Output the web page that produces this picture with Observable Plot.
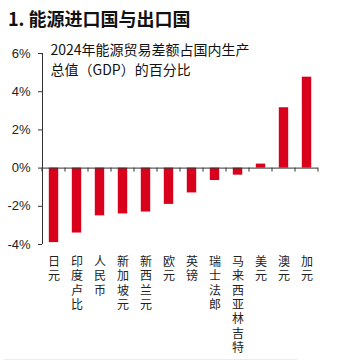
<!DOCTYPE html>
<html>
<head>
<meta charset="utf-8">
<script src="https://cdn.jsdelivr.net/npm/d3@7"></script>
<script src="https://cdn.jsdelivr.net/npm/@observablehq/plot@0.6"></script>
<style>
  html, body { margin: 0; padding: 0; background: #fff; }
  #wrap { position: relative; width: 347px; height: 361px; overflow: hidden; }
  #title { position: absolute; left: 8px; top: 6px; font-family: "Noto Sans CJK SC", "Noto Sans", sans-serif; font-weight: 700; font-size: 18px; line-height: 24px; color: #111; }
  #chart { position: absolute; left: 0; top: 35px; }
  #rule { position: absolute; left: 4px; top: 359px; width: 293px; height: 1px; background: #ececec; }
</style>
</head>
<body>
<div id="wrap">
  <div id="title">1. 能源进口国与出口国</div>
  <div id="chart"></div>
  <div id="rule"></div>
</div>
<script>
const categories = ["日元", "印度卢比", "人民币", "新加坡元", "新西兰元", "欧元", "英镑", "瑞士法郎", "马来西亚林吉特", "美元", "澳元", "加元"];
const values = [-3.9, -3.4, -2.5, -2.4, -2.3, -1.9, -1.3, -0.65, -0.37, 0.21, 3.16, 4.76];
const yTicks = [-4, -2, 0, 2, 4, 6];
const subtitle = ["2024年能源贸易差额占国内生产", "总值（GDP）的百分比"];

const data = categories.map((c, i) => ({category: c, value: values[i]}));
const ink = "#222";

function axesLines(index, scales, values, dimensions) {
  const g = d3.create("svg:g").attr("stroke", "#333").attr("stroke-width", 1).attr("fill", "none");
  const x = scales.x, y = scales.y;
  const bw = x.bandwidth();
  const y0 = y(0);
  const dom = x.domain();
  const bounds = dom.map(d => x(d)).concat([x(dom[dom.length - 1]) + bw]);
  for (const b of bounds) {
    g.append("line").attr("x1", b).attr("x2", b).attr("y1", y0).attr("y2", y0 + 4);
  }
  const xl = dimensions.marginLeft + 0.5;
  g.append("line").attr("x1", xl).attr("x2", xl).attr("y1", y(yTicks[yTicks.length - 1])).attr("y2", y(yTicks[0]));
  return g.node();
}

const plot = Plot.plot({
  width: 347,
  height: 326,
  marginTop: 18,
  marginBottom: 117,
  marginLeft: 42,
  marginRight: 29,
  style: {fontFamily: "'Liberation Sans', Arial, sans-serif", fontSize: "12px", color: ink, background: "#fff"},
  x: {domain: categories, padding: 0, label: null},
  y: {domain: [-4, 6], label: null},
  marks: [
    Plot.barY(data, {x: "category", y: "value", fill: "#d9001b", insetLeft: 6.8, insetRight: 6.8}),
    Plot.ruleY([0], {stroke: "#333", strokeWidth: 1}),
    axesLines,
    Plot.axisY({ticks: yTicks, tickFormat: d => d + "%", tickSize: 4, tickPadding: 8, fontSize: 13, stroke: "#333", label: null}),
    Plot.axisX({tickSize: 0, tickPadding: 11, tickFormat: d => d.split("").join("\n"), lineHeight: 1.2, lineAnchor: "top", fontSize: 12, fontFamily: "'Noto Sans CJK SC', sans-serif", fill: ink, label: null}),
    Plot.text([subtitle.join("\n")], {frameAnchor: "top-left", dx: 8, dy: -13, lineAnchor: "top", lineHeight: 1.46, fontSize: 14, fontFamily: "'Noto Sans CJK SC', sans-serif", fill: "#111", textAnchor: "start"})
  ]
});
document.getElementById("chart").appendChild(plot);
</script>
</body>
</html>
